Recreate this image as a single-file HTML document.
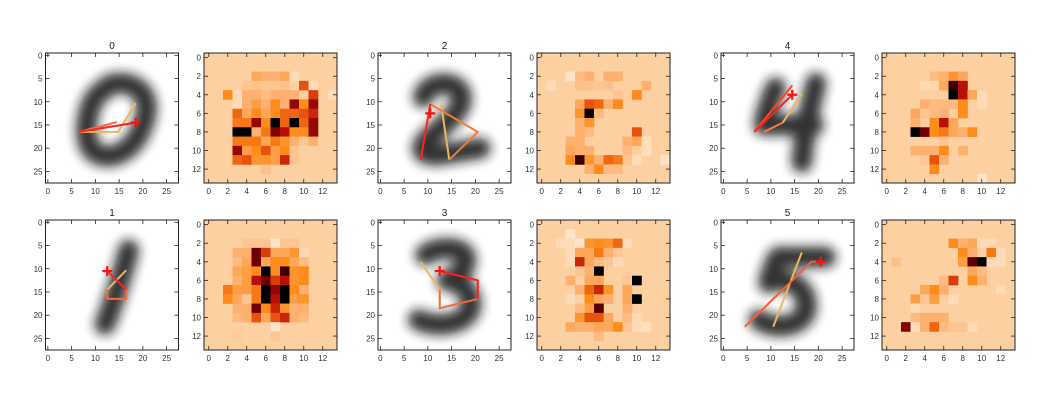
<!DOCTYPE html>
<html><head><meta charset="utf-8">
<style>
html,body{margin:0;padding:0;background:#fff;}
svg{display:block;font-family:"Liberation Sans",sans-serif;}
</style></head>
<body>
<svg id="fig" width="1064" height="407" viewBox="0 0 1064 407" xmlns="http://www.w3.org/2000/svg">
<defs>
<filter id="blur" filterUnits="userSpaceOnUse" x="-30" y="-30" width="200" height="200"><feGaussianBlur stdDeviation="5.5"/></filter>
<clipPath id="c0"><rect x="0" y="0" width="133" height="130"/></clipPath>
</defs>
</svg>
<script>
// ---- data ----
const digitLabels = ["0","1","2","3","4","5"];
const digitTicks = [0,5,10,15,20,25];
const heatTicks = [0,2,4,6,8,10,12];
const heatBackground = 0.15;
// sparse heatmap cells: [row, col, value]
const heat0 = [[2,5,.35],[2,6,.3],[2,7,.3],[2,8,.35],[2,9,.1],[3,4,.2],[3,5,.22],[3,6,.2],[3,7,.2],[3,8,.22],[3,10,.65],[3,11,.1],
[4,2,.5],[4,3,.1],[4,4,.3],[4,5,.3],[4,6,.25],[4,7,.3],[4,8,.3],[4,9,.3],[4,11,.7],[4,13,.1],
[5,3,.1],[5,4,.3],[5,5,.4],[5,6,.3],[5,7,.5],[5,8,.3],[5,9,.85],[5,10,.5],[5,11,.85],
[6,3,.6],[6,4,.35],[6,5,.5],[6,6,.35],[6,7,.5],[6,8,.6],[6,9,.6],[6,10,.65],[6,11,.75],
[7,3,.55],[7,4,.55],[7,5,.85],[7,6,.5],[7,7,1],[7,8,.6],[7,9,1],[7,10,.6],[7,11,.85],
[8,3,1],[8,4,1],[8,5,.3],[8,6,.55],[8,7,.88],[8,8,.8],[8,9,.5],[8,10,.5],[8,11,.85],
[9,3,.55],[9,4,.55],[9,5,.55],[9,6,.35],[9,7,.55],[9,8,.45],[9,9,.3],[9,10,.2],[9,11,.3],
[10,3,.85],[10,4,.4],[10,5,.5],[10,6,.65],[10,7,.4],[10,8,.5],[10,9,.2],
[11,3,.6],[11,4,.65],[11,5,.45],[11,6,.45],[11,7,.4],[11,8,.75],[11,9,.2],[12,6,.22]];
const heat1 = [[2,4,.2],[2,5,.2],[2,6,.2],[2,7,.05],[2,8,.2],[2,9,.2],
[3,3,.3],[3,4,.3],[3,5,.9],[3,6,.7],[3,7,.35],[3,8,.35],[3,9,.45],[3,10,.1],
[4,3,.25],[4,4,.35],[4,5,.9],[4,6,.35],[4,7,.5],[4,8,.5],[4,9,.35],[4,10,.25],
[5,3,.35],[5,4,.4],[5,5,.5],[5,6,1],[5,7,.5],[5,8,.95],[5,9,.45],[5,10,.5],
[6,3,.3],[6,4,.4],[6,5,.8],[6,6,.9],[6,7,.7],[6,8,.8],[6,9,.45],[6,10,.5],
[7,2,.55],[7,3,.4],[7,4,.4],[7,5,.55],[7,6,1],[7,7,.85],[7,8,1],[7,9,.5],[7,10,.3],
[8,2,.5],[8,3,.35],[8,4,.2],[8,5,.55],[8,6,1],[8,7,.8],[8,8,1],[8,9,.4],[8,10,.45],
[9,3,.3],[9,4,.3],[9,5,.9],[9,6,.5],[9,7,.75],[9,8,.45],[9,9,.3],[9,10,.3],
[10,3,.25],[10,4,.3],[10,5,.65],[10,6,.35],[10,7,.65],[10,8,.75],[10,9,.3],[10,10,.25],
[11,7,.05],[12,3,.18],[12,7,.2]];
const heat2 = [[2,3,.05],[2,4,.25],[2,5,.3],[2,7,.3],[2,8,.3],[3,1,.1],[3,4,.22],[3,5,.22],[3,6,.2],[3,7,.22],[3,11,.3],
[4,8,.2],[4,10,.5],[5,4,.35],[5,5,.65],[5,6,.6],[5,7,.3],[5,8,.5],[6,4,.45],[6,5,1],[6,6,.25],[7,4,.3],[7,5,.45],
[8,4,.3],[8,5,.25],[8,10,.65],[9,3,.3],[9,4,.3],[9,9,.3],[9,10,.35],[9,11,.08],[10,3,.35],[10,4,.3],[10,5,.3],[10,9,.25],[10,11,.08],
[11,3,.5],[11,4,.95],[11,5,.45],[11,6,.3],[11,7,.6],[11,8,.55],[11,9,.2],[11,10,.1],[11,13,.05],[12,5,.3],[12,6,.5],[12,7,.25],[12,8,.25]];
const heat3 = [[1,3,.05],[2,2,.1],[2,3,.1],[2,4,.05],[2,5,.45],[2,6,.5],[2,7,.45],[2,8,.6],[2,9,.1],
[3,3,.1],[3,4,.35],[3,5,.35],[3,6,.55],[3,7,.3],[3,8,.2],[4,3,.1],[4,4,.75],[4,5,.35],[4,6,.25],[4,7,.2],[4,8,.1],
[5,4,.2],[5,5,.3],[5,6,1],[6,3,.3],[6,5,.35],[6,6,.35],[6,9,.2],[6,10,1],
[7,4,.3],[7,5,.6],[7,6,.75],[7,7,.45],[7,9,.35],[8,3,.1],[8,5,.5],[8,6,.35],[8,7,.3],[8,9,.35],[8,10,1],
[9,4,.25],[9,5,.4],[9,6,.92],[9,9,.3],[10,4,.45],[10,5,.65],[10,6,.65],[10,7,.35],[10,9,.25],[10,10,.1],
[11,3,.35],[11,4,.3],[11,5,.3],[11,6,.35],[11,7,.35],[11,8,.5],[11,9,.2],[11,10,.1],[11,11,.08],[12,6,.25]];
const heat4 = [[2,5,.25],[2,6,.3],[2,7,.45],[2,8,.35],[3,4,.1],[3,5,.12],[3,6,.35],[3,7,.95],[3,8,.8],
[4,7,1],[4,8,.8],[4,9,.35],[4,10,.1],[5,4,.3],[5,5,.25],[5,6,.25],[5,7,.25],[5,8,.5],[5,10,.1],
[6,3,.35],[6,4,.2],[6,5,.25],[6,6,.3],[6,8,.5],[7,3,.3],[7,5,.5],[7,6,.8],[7,7,.35],
[8,3,1],[8,4,.9],[8,5,.5],[8,6,.55],[8,7,.35],[8,8,.3],[8,9,.5],[9,6,.2],
[10,3,.3],[10,4,.3],[10,5,.3],[10,6,.5],[10,8,.3],[11,4,.2],[11,5,.65],[11,6,.3],[12,5,.5],[13,10,.05]];
const heat5 = [[2,7,.5],[2,8,.3],[2,9,.35],[2,10,.1],[2,11,.1],[3,8,.5],[3,9,.3],[3,11,.55],[3,12,.1],
[4,1,.22],[4,8,.4],[4,9,.92],[4,10,1],[4,11,.1],[4,12,.1],[5,9,.35],[5,10,.25],
[6,6,.25],[6,7,.7],[6,9,.5],[6,10,.3],[7,4,.35],[7,5,.5],[7,6,.3],[7,12,.1],
[8,3,.4],[8,4,.2],[8,5,.4],[8,7,.1],[9,3,.1],[9,4,.15],[10,3,.25],[10,4,.3],[10,5,.3],[10,6,.3],
[11,2,.88],[11,3,.1],[11,4,.3],[11,5,.6],[11,6,.25],[11,7,.2],[11,8,.2],[11,9,.1]];
const heatData = [heat0,heat1,heat2,heat3,heat4,heat5];
// digit ink strokes: control points in data coords (cubic bezier chains)
const ink0 = [[[15,6],[20,6],[22,10],[20,15],[18,21],[13,23],[10,21],[7,19],[8,12],[10,9],[12,7],[13,6],[15,6]]];
const ink1 = [[[17,6],[16,10],[14,17],[12,22]]];
const ink2 = [[[9,9],[10,5.5],[16,5],[17,8.5],[18,12],[12,16],[9.5,18.5],[8,20.5],[9,21.5],[12,21.5],[15,21],[18,20.5],[21,20]]];
const ink3 = [[[9.5,7],[12,5],[18,5],[18,8],[18,11],[15,12],[14,12.5],[17.5,13],[19.5,15.5],[19,18.5],[18,22],[12,23],[8,21]]];
const ink4 = [[[11,7],[10,9.5],[9,12],[8.5,15],[12,15],[16,15],[19,15]], [[19.5,6],[18.5,10],[17,17],[16.5,23]]];
const ink5 = [[[21.5,7.5],[18,7.5],[14,7.5],[11.5,7.5],[10.5,9.5],[10,11],[9.5,13],[13,11.5],[17.5,13.5],[17.5,18],[17.5,22.5],[11,23.5],[7.5,21]]];
const inkData = [ink0,ink1,ink2,ink3,ink4,ink5];
// trajectory polylines: [color, points]
const lines0 = [["#e8b860",[[6.5,16.5],[14.8,16.5],[18.5,10.3]]],["#f46a3a",[[6.5,16.5],[14.5,14.4]]],["#ff2020",[[6.5,16.5],[18.5,14.5]]]];
const lines1 = [["#e8b860",[[12.5,14.5],[16.5,10.3]]],["#f46a3a",[[16.5,14.5],[16.5,16.5],[12.5,16.5],[12.5,14.5]]],["#ff2020",[[12.5,10.5],[16.5,14.5]]]];
const lines2 = [["#e8b860",[[14.5,22.5],[12.8,10.5]]],["#f47a3a",[[10.5,10.5],[20.5,16.5],[14.5,22.5]]],["#ff2020",[[8.5,22.5],[10.5,10.5]]]];
const lines3 = [["#e8b860",[[12.5,14.5],[8.5,8.5]]],["#f46a3a",[[20.5,16.5],[12.5,18.5],[12.5,14.5]]],["#ff2020",[[12.5,10.5],[20.5,12.5],[20.5,16.5]]]];
const lines4 = [["#e8b860",[[12.5,14.5],[16.5,8.3]]],["#f47a3a",[[8.5,16.5],[12.5,14.5]]],["#f44a2a",[[6.5,16.5],[14.5,6.5]]],["#ff2020",[[6.5,16.5],[14.5,8.5]]]];
const lines5 = [["#e8b860",[[10.5,22.5],[16.5,6.5]]],["#f4603a",[[4.5,22.5],[18.5,8.5],[20.5,8.5]]]];
const lineData = [lines0,lines1,lines2,lines3,lines4,lines5];
const markers = [[18.5,14.5],[12.5,10.5],[10.5,12.5],[12.5,10.5],[14.5,8.5],[20.5,8.5]];

// ---- layout ----
const digitLeft = [45.5, 378, 721];
const heatLeft = [204, 537, 882];
const rowTop = [53, 220];
const PW = 133, PH = 130;
const NS = "http://www.w3.org/2000/svg";
const svg = document.getElementById("fig");
function mk(tag, attrs, parent){const e=document.createElementNS(NS,tag);for(const k in attrs)e.setAttribute(k,attrs[k]);(parent||svg).appendChild(e);return e;}
const stops=[[0,[255,240,222]],[0.15,[253,208,162]],[0.3,[253,176,112]],[0.5,[253,140,26]],[0.65,[232,82,14]],[0.8,[184,16,5]],[0.9,[112,0,0]],[1,[0,0,0]]];
function cmap(v){for(let i=1;i<stops.length;i++){if(v<=stops[i][0]){const a=stops[i-1],b=stops[i];const t=(v-a[0])/(b[0]-a[0]);const c=a[1].map((x,j)=>Math.round(x+(b[1][j]-x)*t));return `rgb(${c})`;}}return "#000";}

function axesFrame(g, n, ticks, labelPrefix){
  const sx = v => (v+0.5)*PW/n, sy = v => (v+0.5)*PH/n;
  const frame = mk("rect",{x:0,y:0,width:PW,height:PH,fill:"none",stroke:"#222","stroke-width":1},g);
  
  
  ticks.forEach(t=>{
    const x=sx(t), y=sy(t);
    mk("line",{x1:x,y1:PH,x2:x,y2:PH-4,stroke:"#222","stroke-width":0.8},g);
    mk("line",{x1:x,y1:0,x2:x,y2:4,stroke:"#222","stroke-width":0.8},g);
    mk("line",{x1:0,y1:y,x2:4,y2:y,stroke:"#222","stroke-width":0.8},g);
    mk("line",{x1:PW,y1:y,x2:PW-4,y2:y,stroke:"#222","stroke-width":0.8},g);
    const tx = mk("text",{x:x,y:PH+11,"font-size":8,"text-anchor":"middle",fill:"#333"},g);
    tx.textContent=t;
    
    
    const ty = mk("text",{x:-3,y:y+3,"font-size":8,"text-anchor":"end",fill:"#333"},g);
    ty.textContent=t;
    
    
  });
}

for(let i=0;i<6;i++){
  const col = Math.floor(i/2), row = i%2;
  const sx = v => (v+0.5)*PW/28, sy = v => (v+0.5)*PH/28;
  const g = mk("g",{transform:`translate(${digitLeft[col]},${rowTop[row]})`});
  
  
  mk("rect",{x:0,y:0,width:PW,height:PH,fill:"#fff"},g);
  const inner = mk("g",{"clip-path":"url(#c0)"},g);
  const ink = mk("g",{filter:"url(#blur)",opacity:0.88},inner);
  inkData[i].forEach(pts=>{
    let d = `M${sx(pts[0][0])},${sy(pts[0][1])}`;
    for(let k=1;k+2<pts.length;k+=3){
      d += ` C${sx(pts[k][0])},${sy(pts[k][1])} ${sx(pts[k+1][0])},${sy(pts[k+1][1])} ${sx(pts[k+2][0])},${sy(pts[k+2][1])}`;
    }
    const p = mk("path",{d:d,fill:"none",stroke:"#151515","stroke-width":21,"stroke-linecap":"round","stroke-linejoin":"round"},ink);
    
    
  });
  lineData[i].forEach(([c,pts])=>{
    const pl = mk("polyline",{points:pts.map(p=>sx(p[0])+","+sy(p[1])).join(" "),fill:"none",stroke:c,"stroke-width":2,"stroke-linejoin":"round"},g);
    
    
  });
  const mx = sx(markers[i][0]), my = sy(markers[i][1]);
  const mkr = mk("path",{d:`M${mx-5},${my}H${mx+5}M${mx},${my-5}V${my+5}`,stroke:"#ff1010","stroke-width":2.2},g);
  
  
  axesFrame(g, 28, digitTicks, 'digit');
  const title = mk("text",{x:PW/2,y:-4,"font-size":10,"text-anchor":"middle",fill:"#222"},g);
  title.textContent = digitLabels[i];
  
  

  const h = mk("g",{transform:`translate(${heatLeft[col]},${rowTop[row]})`});
  
  
  const bg = mk("rect",{x:0,y:0,width:PW,height:PH,fill:cmap(heatBackground)},h);
  
  
  const cw = PW/14, ch = PH/14;
  heatData[i].forEach(([r,c,v])=>{
    const cell = mk("rect",{x:c*cw,y:r*ch,width:cw+0.3,height:ch+0.3,fill:cmap(v)},h);
    
    
  });
  axesFrame(h, 14, heatTicks, 'heatmap');
}
</script>
</body></html>
